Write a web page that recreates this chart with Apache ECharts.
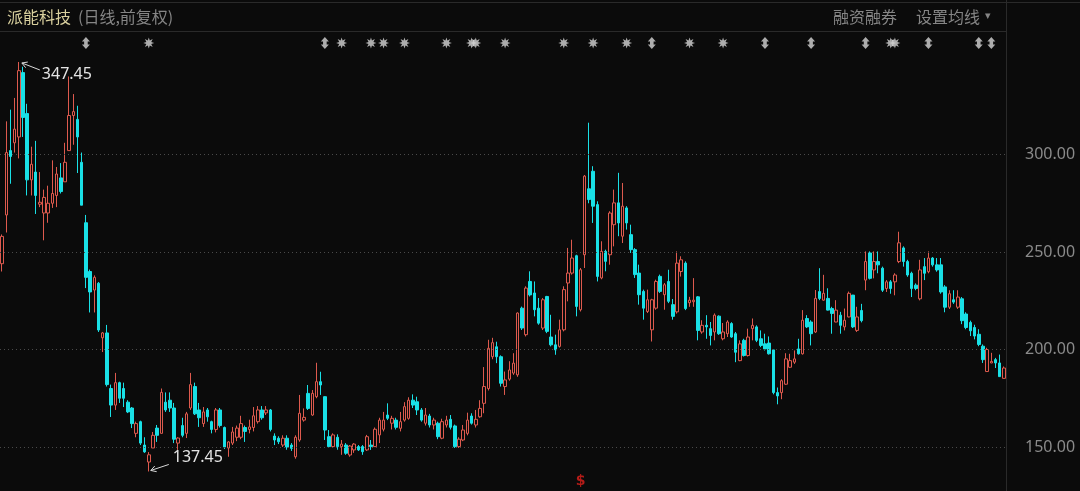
<!DOCTYPE html>
<html><head><meta charset="utf-8">
<script src="https://cdn.jsdelivr.net/npm/echarts@6/dist/echarts.min.js"></script>
<style>html,body{margin:0;padding:0;background:#0b0b0b;overflow:hidden}#c{width:1080px;height:491px;}</style>
</head><body><div id="c"></div>
<script>
// ---- data ----
const openVals=[244,269,302,306,309,342,321,287,291,274.5,
270,270,275,279,288,286,302,320,318,296,
265,240,230.5,234,206,208.5,180,171.5,183,180,
173,170,157,163,151,142.3,149.5,159.7,157,173,
174,170,152,161,157,170,181,169,162,169,
163,159,169,160,149.5,152,155,155,160,159,
160,163,169,167.5,169,155.6,154.5,151,154.5,151,
145,153.6,163.8,177.5,166.4,175.8,183.5,175.8,155.3,150.2,
155,150.2,151,145.9,148.5,150.2,150.2,148.5,151,150.2,
156.2,159.1,166.4,162.2,163.8,159.6,163.8,164.7,174,173.2,
169,162.2,165.9,161.3,162.2,154.5,161.3,164.2,160.8,150.2,
153.6,157,165.9,161.3,165.5,172.4,180,196.3,201.4,196.3,
181,184.8,187.9,187,221.2,207.6,234.9,229,221.2,211,
227.2,206.4,202.4,201.6,210.1,234.1,239.2,248.1,220.4,248.6,
282.4,291.4,274.3,236.7,250.3,248.6,264,275.2,258.1,272.6,
258.9,251.2,239.2,229.8,219.5,210.1,221.2,237.5,228.1,234.9,
223,219.3,240,244.3,224,224.5,227,209,212.4,210.7,
209,217.1,205.5,208.1,213.3,208.1,194.3,204.7,196.9,210.7,
211.6,205.5,202.9,203.3,199.8,177.9,177.9,182.2,190.9,193.5,
200.3,197.8,215.9,214.1,209,229.7,225.3,226.2,221,214.1,
217.6,211.6,216.7,227.9,209.8,220,235.6,249.5,240.8,245.1,
241.7,231.3,234.7,234.7,245.1,252.1,245.1,239.1,233,226,
242.5,239.9,246.9,243.4,243.4,232.1,221.7,225.5,221.7,226,
218.2,213.9,211.3,207.8,201.7,188.7,193.1,194.8,193.1,185.2];
const closeVals=[258,301,299,313,343,319,287,295,279,275.5,
278,275,280,290,281,296,320,322,309,274,
237,229.5,237,210,208.5,182,171.5,183,175,175,
168,162,162,152,147.5,146,156,156,178,169,
170,154,154.6,156,167,182,167,165,168,165.5,
159,169,161,150,152.6,157.7,159.7,162,158,160.3,
166,169,165,169,159,153.6,152.7,154.5,150,149.3,
155,167.3,165.2,169.8,177.5,183.5,181.8,158.7,150.2,156.2,
150.2,151.5,146.8,150.5,151.5,148.5,147.6,155.3,150.2,159.1,
163.8,163.8,164.7,164.7,160.1,163,170.7,174,171.5,169,
163.8,166.4,161.3,163.8,155.3,163,163.8,160.1,150.2,154,
158.7,163.8,162.2,164.2,169.8,181,200.6,203.5,196.3,182.7,
184.4,189.5,193,218.7,211,231.5,228,220.4,213.5,225.5,
209.3,202.4,199.8,210.1,230.7,239.2,246.9,222.1,240.9,288.9,
276.9,273.5,237.5,250.3,245.2,270,275.2,264.9,273.5,264.9,
251.2,238.4,228.1,221.2,225.5,225.5,234.9,229.8,233.2,224.7,
217,244.3,246,221,225.3,225.3,209.8,212.4,211.6,207.2,
217.6,208.1,209,214.1,206.4,198.6,202.9,196.9,206.4,212.4,
204.7,202.1,200.3,197.8,177.9,176.2,184,195.2,194.3,195.2,
197.8,215,211.6,208.1,226.2,226.2,228.8,220.2,218.5,220.2,
212.4,215,228.8,211.6,216.7,214.8,245.1,236.5,245.1,243.4,
230.4,234.7,231.3,238.2,254.7,245.1,238.2,231.3,231.3,240.8,
239.1,246.9,243.4,240.8,229.5,221.7,228.6,224.3,226.9,214.8,
211.3,209.6,206.9,202.6,194.8,200,193.9,193.1,186.1,190.5];
const lowVals=[240,260,285,301,298,309,279,279,269.5,273,
256,265,272.6,273,280,286,302,305,290.5,274,
231.5,219,219,209,198.7,181,165.4,169,172.6,170.5,
167.4,159.7,155,151,147,137.45,149.5,152.6,157,168,
168,152,148.5,155,154.6,169,166.4,160.3,160.3,163,
157,157.5,160,149,145,151,153,154,152.6,157,
158,162,164,166.4,158,151,151.5,150,148.6,148,
144,152.7,163,169,166,175,176.7,153.6,149.5,150,
148.6,146,146,145,147,148,146,148,148.5,150,
152,158,163.8,159,159,158,163,164,170,166.4,
163,161,160,159,154,154,160,159,149.5,149.5,
153,156,161.5,160,165,167.3,179,195,193,181,
176.7,184,187,186,210,206.7,227.2,217,212.7,210,
208.4,201.6,197.3,201,209.3,224.7,238.4,217,219.5,241.8,
275,264.9,234.9,236,240.1,243.5,252.9,258.1,254.6,261.5,
249.5,236.7,223,215.3,218.7,204.1,220.4,229,220.4,223.8,
215.3,218.4,237.4,220.2,221.9,221.9,204.7,208.1,205.5,202.1,
204.7,207.5,204.7,206.4,206,193.5,194,196.4,196.4,204.7,
203.8,201.2,199.5,197.4,177,171.9,174.5,181.9,190.5,192.6,
197.4,197.4,211,202.1,208.5,225.3,225,220,208.1,214,
208.1,209.8,216.5,211,209,213.9,230.4,235.9,236.5,239.1,
229.5,229.5,228.6,227.8,244.3,242.5,237.3,226.9,230.4,225.2,
235.6,239.1,242.5,239.9,228.6,219.1,220.8,223.4,220.8,213,
210.4,206.9,205.2,201.7,193.1,188.5,193,190.5,186,185];
const highVals=[259,317,323,329,347.45,345,326,304,307,291,
282,284,297,293.6,295.6,306,340,331,325,301,
269,241,238,234.6,209,212.6,182,188,183.5,183,
174,170.5,163,163.5,155,147.4,157.7,161.3,180,178,
178,172.6,155,165,168,188,183,172.6,170.5,170,
163.5,170,170,160.5,153,160.3,161,166,161,164,
170.5,171,171,171,169.5,157,155.5,156,156,152,
156,176.7,169.8,181.8,179.2,193.2,188.6,176,158.7,157,
156.5,153.6,152,151,152,151,151,156.2,153.6,160,
165,168,172.4,166,165,168,173,175.5,177,175.8,
170,170,167,165,163,164.5,166,166.4,161.5,155,
161.3,167.6,167.3,169,174,191,205,206,204,197,
188.7,194,198.1,219,222,232.4,240.1,234.9,226.4,226.4,
227.5,217.8,207.6,215.3,232.4,252.1,256.3,248.6,241.8,289.5,
316.3,294,276,255.5,251.2,270.9,282,290.6,285.4,273.5,
264,252,243.5,230.7,230.7,226,235.8,238.4,234.1,240.9,
225.9,250.3,247.8,245.2,227,236.6,227.4,215,217.6,214.1,
218.5,217.5,213.6,215,214,209,204.7,205.5,210.7,215.9,
212.4,209.8,208.1,206.7,199.8,180.5,184.8,198.1,197.8,199.5,
205.5,220.2,217.6,215,230.5,241.7,238.3,231.4,221.9,225.3,
219.3,221,229.7,228,221.9,223.4,250.3,250.3,250.3,250.3,
242.5,235.6,235.6,239.1,260.4,252.9,246,239.9,233.9,246,
246.9,250.3,247.4,246.9,246.9,233,230.4,230.4,230.4,226.9,
219.1,214.8,212.7,210.4,202.6,200.9,198.3,195.7,197.4,191.3];
const categories=openVals.map((_,i)=>'D'+(i+1));
const gridValues=[150,200,250,300];
const tickLabels=['150.00','200.00','250.00','300.00'];
const yMin=127.44, yMax=379.23;
const arrowMarkerIdx=[20,77,155,182,193,206,221,233,236];
const starMarkerIdx=[35,81,88,91,96,106,112,113,120,134,141,149,164,172,212,213];
const dollarMarkerIdx=[138];

// ---- chart ----
const chart=echarts.init(document.getElementById('c'),null,{renderer:'canvas'});
const candleData=openVals.map((o,i)=>[o,closeVals[i],lowVals[i],highVals[i]]);
function starPath(){let p='path://';for(let k=0;k<16;k++){const a=k*Math.PI/8-Math.PI/2;const r=k%2===0?5:2.4;const x=(5+r*Math.cos(a)).toFixed(2),y=(5+r*Math.sin(a)).toFixed(2);p+=(k===0?'M':'L')+x+','+y+' ';}return p+'Z';}
const arrowPath='path://M4,0 L8,4.5 L5.8,4.5 L5.8,7.5 L8,7.5 L4,12 L0,7.5 L2.2,7.5 L2.2,4.5 L0,4.5 Z';
const markColor='#d6d6d6';
const lineCol='#2a2a2a';
const option={
  backgroundColor:'#0b0b0b',
  animation:false,
  grid:[
    {left:0,right:74,top:0,height:491},
    {left:0,right:74,top:37,height:12},
    {left:0,right:74,top:472,height:18}
  ],
  xAxis:[
    {type:'category',data:categories,gridIndex:0,show:false},
    {type:'category',data:categories,gridIndex:1,show:false},
    {type:'category',data:categories,gridIndex:2,show:false}
  ],
  yAxis:[
    {type:'value',gridIndex:0,position:'right',min:yMin,max:yMax,
     axisLine:{show:false},axisTick:{show:false},splitLine:{show:false},
     axisLabel:{margin:19,color:'#8a8a8a',fontSize:16,fontFamily:'Noto Sans',
       customValues:gridValues,
       formatter:v=>{const k=gridValues.indexOf(Math.round(v*100)/100);return k>=0?tickLabels[k]:'';}}},
    {type:'value',gridIndex:1,min:0,max:1,show:false},
    {type:'value',gridIndex:2,min:0,max:1,show:false}
  ],
  series:[
    {type:'candlestick',data:candleData,xAxisIndex:0,yAxisIndex:0,barWidth:3,
     itemStyle:{color:'#0b0b0b',color0:'#19e0e6',borderColor:'#de5a4e',borderColor0:'#19e0e6',borderWidth:1},
     markLine:{silent:true,symbol:['none','none'],label:{show:false},animation:false,
       lineStyle:{type:[1,3],color:'#4a4a4a',width:1},
       emphasis:{disabled:true},
       data:gridValues.map(v=>({yAxis:v}))}
    },
    {type:'scatter',xAxisIndex:1,yAxisIndex:1,symbol:arrowPath,symbolSize:[8,12],
     itemStyle:{color:markColor},data:arrowMarkerIdx.map(i=>[i,0.5]),silent:true},
    {type:'scatter',xAxisIndex:1,yAxisIndex:1,symbol:starPath(),symbolSize:[11,11],
     itemStyle:{color:markColor},data:starMarkerIdx.map(i=>[i,0.5]),silent:true},
    {type:'scatter',xAxisIndex:2,yAxisIndex:2,symbolSize:1,itemStyle:{color:'rgba(0,0,0,0)'},
     label:{show:true,position:'inside',formatter:'$',color:'#e0201c',fontSize:14,fontWeight:'bold',fontFamily:'DejaVu Sans'},
     data:dollarMarkerIdx.map(i=>[i,0.5]),silent:true}
  ]
};
chart.setOption(option);

function arrowGraphics(tip,end,label,textX,textY){
  const dx=end[0]-tip[0],dy=end[1]-tip[1];const L=Math.hypot(dx,dy);const ux=dx/L,uy=dy/L;
  const hl=6,ang=Math.PI/6;
  const h1=[tip[0]+hl*(ux*Math.cos(ang)-uy*Math.sin(ang)),tip[1]+hl*(ux*Math.sin(ang)+uy*Math.cos(ang))];
  const h2=[tip[0]+hl*(ux*Math.cos(-ang)-uy*Math.sin(-ang)),tip[1]+hl*(ux*Math.sin(-ang)+uy*Math.cos(-ang))];
  const st={stroke:'#d8d8d8',lineWidth:1};
  return [
    {type:'line',shape:{x1:tip[0],y1:tip[1],x2:end[0],y2:end[1]},style:st,silent:true},
    {type:'polyline',shape:{points:[h1,tip,h2]},style:{stroke:'#d8d8d8',lineWidth:1,fill:null},silent:true},
    {type:'text',x:textX,y:textY,style:{text:label,fill:'#e4e4e4',font:'16px "Noto Sans"',textVerticalAlign:'middle',textAlign:'left'},silent:true}
  ];
}
let maxI=0,minI=0;
highVals.forEach((v,i)=>{if(v>highVals[maxI])maxI=i;});
lowVals.forEach((v,i)=>{if(v<lowVals[minI])minI=i;});
const pMax=chart.convertToPixel({seriesIndex:0},[maxI,highVals[maxI]]);
const pMin=chart.convertToPixel({seriesIndex:0},[minI,lowVals[minI]]);
const tMax=[pMax[0]+3,pMax[1]+1],tMin=[pMin[0]+2,pMin[1]-1];
const graphics=[
  {type:'line',shape:{x1:0,y1:2.5,x2:1080,y2:2.5},style:{stroke:lineCol,lineWidth:1},silent:true},
  {type:'line',shape:{x1:0,y1:31.5,x2:1006,y2:31.5},style:{stroke:lineCol,lineWidth:1},silent:true},
  {type:'line',shape:{x1:1006.5,y1:0,x2:1006.5,y2:491},style:{stroke:lineCol,lineWidth:1},silent:true},
  {type:'text',x:7,y:17,style:{text:'派能科技',fill:'#d9d09e',font:'16px "Noto Sans CJK SC"',textVerticalAlign:'middle'},silent:true},
  {type:'text',x:78,y:17,style:{text:'(日线,前复权)',fill:'#858585',font:'16px "Noto Sans CJK SC"',textVerticalAlign:'middle'},silent:true},
  {type:'text',x:833,y:17,style:{text:'融资融券',fill:'#858585',font:'16px "Noto Sans CJK SC"',textVerticalAlign:'middle'},silent:true},
  {type:'text',x:916,y:17,style:{text:'设置均线',fill:'#858585',font:'16px "Noto Sans CJK SC"',textVerticalAlign:'middle'},silent:true},
  {type:'text',x:985,y:16,style:{text:'▾',fill:'#858585',font:'11px "DejaVu Sans"',textVerticalAlign:'middle'},silent:true}
].concat(
  arrowGraphics(tMax,[tMax[0]+18,tMax[1]+7],highVals[maxI].toFixed(2),tMax[0]+20,tMax[1]+11),
  arrowGraphics(tMin,[tMin[0]+18,tMin[1]-6],lowVals[minI].toFixed(2),tMin[0]+22,tMin[1]-13)
);
chart.setOption({graphic:graphics});
</script>
</body></html>
